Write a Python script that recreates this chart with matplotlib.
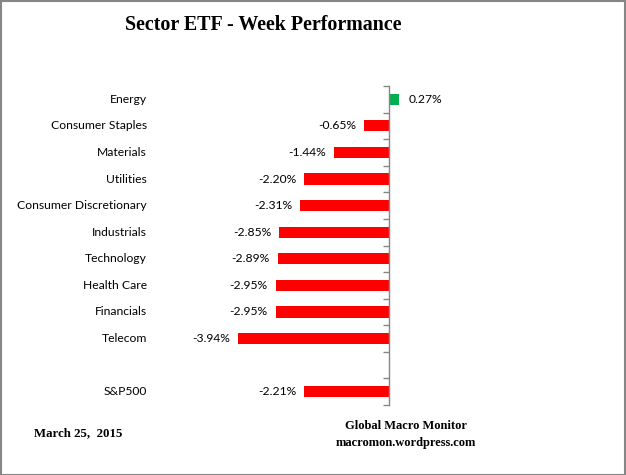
import numpy as np
import matplotlib
matplotlib.use('Agg')
import matplotlib.pyplot as plt
import matplotlib.transforms as mtransforms

sectors = ['Energy', 'Consumer Staples', 'Materials', 'Utilities',
           'Consumer Discretionary', 'Industrials', 'Technology',
           'Health Care', 'Financials', 'Telecom', '', 'S&P500']
perf = [0.27, -0.65, -1.44, -2.20, -2.31, -2.85, -2.89, -2.95, -2.95, -3.94, None, -2.21]

fig = plt.figure(figsize=(6.26, 4.75), dpi=100)
W, H = 626.0, 475.0
ax = fig.add_axes([158.6 / W, 1 - 405 / H, 307 / W, 319 / H])
ax.set_xlim(-6, 2)
ax.set_ylim(len(sectors) - 0.5, -0.5)

for i, v in enumerate(perf):
    if v is None:
        continue
    col = '#00b050' if v > 0 else '#ff0000'
    ax.barh(i, v, height=0.42, color=col, edgecolor='none')
    if v > 0:
        ax.annotate('%.2f%%' % v, (v, i), xytext=(9, 0), textcoords='offset pixels',
                    ha='left', va='center', fontsize=8.7, family='Lato')
    else:
        ax.annotate('%.2f%%' % v, (v, i), xytext=(-8, 0), textcoords='offset pixels',
                    ha='right', va='center', fontsize=8.7, family='Lato')

trans = mtransforms.blended_transform_factory(ax.transAxes, ax.transData)
for i, s in enumerate(sectors):
    ax.text((147 - 158.6) / 307, i, s, transform=trans, ha='right', va='center',
            fontsize=8.7, family='Lato')

for sp in ['top', 'right', 'bottom']:
    ax.spines[sp].set_visible(False)
ax.spines['left'].set_position(('data', 0))
ax.spines['left'].set_color('#868686')
ax.spines['left'].set_linewidth(1)
ax.set_yticks(np.arange(-0.5, len(sectors), 1.0))
ax.set_yticklabels([])
ax.tick_params(axis='y', direction='out', length=4, color='#868686', width=1)
ax.set_xticks([])

fig.text(263 / W, 1 - 25 / H, 'Sector ETF - Week Performance', ha='center', va='center',
         fontsize=14.4, fontweight='bold', family='Liberation Serif')
fig.text(34 / W, 1 - 433 / H, 'March 25,  2015', ha='left', va='center',
         fontsize=9.3, fontweight='bold', family='Liberation Serif')
fig.text(406 / W, 1 - 426 / H, 'Global Macro Monitor', ha='center', va='center',
         fontsize=9, fontweight='bold', family='Liberation Serif')
fig.text(406 / W, 1 - 443 / H, 'macromon.wordpress.com', ha='center', va='center',
         fontsize=9, fontweight='bold', family='Liberation Serif')

fig.add_artist(plt.Rectangle((0.5 / W, 0.5 / H), 1 - 1.5 / W, 1 - 1.5 / H,
                             transform=fig.transFigure, fill=False,
                             edgecolor='#868686', linewidth=1.5))

fig.savefig('out.png', dpi=100)
